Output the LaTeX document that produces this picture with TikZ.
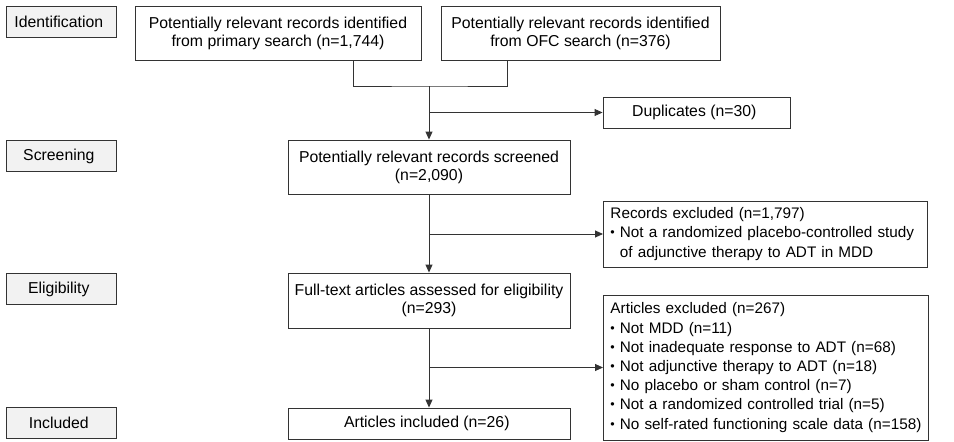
\documentclass[tikz,border=0pt]{standalone}
\usepackage{fontspec}
\setmainfont{Liberation Sans}
\usetikzlibrary{positioning,arrows.meta}
\definecolor{linegray}{HTML}{333333}
\definecolor{stagegray}{HTML}{F2F2F2}
\newcommand{\itm}{\raisebox{0.12ex}{\fontsize{12.5}{12.5}\selectfont\textbullet}\ }

\begin{document}
\begin{tikzpicture}[x=1pt, y=-1pt, font=\fontsize{15.8}{18}\selectfont,
	block/.style = { rectangle, draw=linegray, fill=white, line width=0.9pt,
	align=center, inner sep=0pt},
	stage/.style = { block, fill=stagegray, minimum width=110pt, minimum height=31pt},
	note/.style = { block, align=left, anchor=west, inner xsep=7pt,
	font=\fontsize{15.3}{19.2}\selectfont},
	link/.style = { draw=linegray, line width=0.9pt},
	flow/.style = { link, -{Triangle[length=8pt,width=7pt]}} ]

  \useasboundingbox (0,0) rectangle (954,442);

  % stages
  \node [name=ident, stage] at (61,21.5) { Identification };
  \node [name=screen, stage] at (61,156) { Screening };
  \node [name=elig, stage] at (61,289) { Eligibility };
  \node [name=incl, stage] at (61,423) { Included };

  % main flow
  \node [name=primary, block, minimum width=286pt, minimum height=54pt]
	at (278,33) { Potentially relevant records identified\\from primary search (n=1,744) };
  \node [name=ofc, block, minimum width=279pt, minimum height=54pt]
	at (580.5,33) { Potentially relevant records identified\\from OFC search (n=376) };
  \node [name=dup, block, minimum width=187pt, minimum height=31pt]
	at (696.5,112.5) { Duplicates (n=30) };
  \node [name=screened, block, minimum width=282pt, minimum height=54pt]
	at (429,167) { Potentially relevant records screened\\(n=2,090) };
  \node [name=fulltext, block, minimum width=282pt, minimum height=55pt]
	at (429,300.5) { Full-text articles assessed for eligibility\\(n=293) };
  \node [name=included, block, minimum width=282pt, minimum height=31pt]
	at (429,423.5) { Articles included (n=26) };

  % exclusions
  \node [name=recexcl, note, text width=310pt, minimum height=66pt] at (603,234)
	{ Records excluded (n=1,797)\\
	  \itm Not a randomized placebo-controlled study\\
	  \phantom{\itm}of adjunctive therapy to ADT in MDD };
  \node [name=artexcl, note, text width=311pt, minimum height=145pt] at (603,367.5)
	{ Articles excluded (n=267)\\
	  \itm Not MDD (n=11)\\
	  \itm Not inadequate response to ADT (n=68)\\
	  \itm Not adjunctive therapy to ADT (n=18)\\
	  \itm No placebo or sham control (n=7)\\
	  \itm Not a randomized controlled trial (n=5)\\
	  \itm No self-rated functioning scale data (n=158) };

  % connectors
  \coordinate (merge) at (429,86);
  \draw [link] ([xshift=75]primary.south) |- (merge) -| ([xshift=-73.5]ofc.south);
  \draw [flow] (merge) -- (screened);
  \draw [flow] (merge |- dup) -- (dup);
  \draw [flow] (screened) -- (fulltext);
  \draw [flow] (screened.south |- recexcl) -- (recexcl);
  \draw [flow] (fulltext) -- (included);
  \draw [flow] (fulltext.south |- artexcl) -- (artexcl);
\end{tikzpicture}
\end{document}
